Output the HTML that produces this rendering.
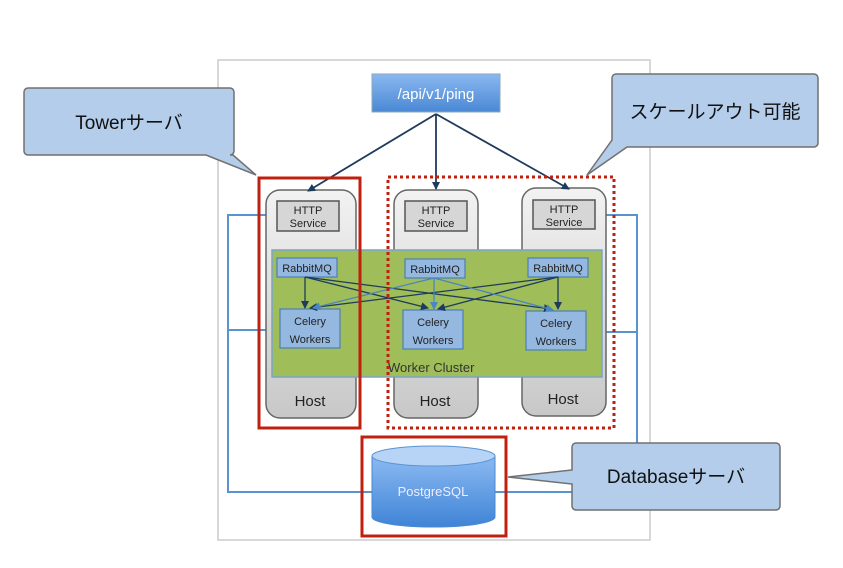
<!DOCTYPE html>
<html><head><meta charset="utf-8"><style>
body{margin:0;width:843px;height:563px;background:#fff;overflow:hidden;font-family:"Liberation Sans","Noto Sans CJK JP",sans-serif}
svg text{font-family:"Liberation Sans","Noto Sans CJK JP",sans-serif}
</style></head><body>
<svg width="843" height="563" viewBox="0 0 843 563">
<defs>
<linearGradient id="hg" x1="0" y1="0" x2="0" y2="1"><stop offset="0" stop-color="#f2f2f2"/><stop offset="1" stop-color="#c8c8c8"/></linearGradient>
<linearGradient id="pg" x1="0" y1="0" x2="0" y2="1"><stop offset="0" stop-color="#8ab8f0"/><stop offset="1" stop-color="#4a88d4"/></linearGradient>
<linearGradient id="cg" x1="0" y1="0" x2="0" y2="1"><stop offset="0" stop-color="#8cbaf2"/><stop offset="1" stop-color="#3f84d6"/></linearGradient>
<marker id="a" markerWidth="8" markerHeight="8" refX="7" refY="4" orient="auto" markerUnits="userSpaceOnUse"><path d="M0,0 L8,4 L0,8 z" fill="#1f3b5c"/></marker>
<marker id="b" markerWidth="8" markerHeight="8" refX="7" refY="4" orient="auto" markerUnits="userSpaceOnUse"><path d="M0,0 L8,4 L0,8 z" fill="#4a86c0"/></marker>
</defs>
<rect x="218" y="60" width="432" height="480" fill="#fff" stroke="#ccc" stroke-width="1.5"/>
<!-- blue lines -->
<g stroke="#5b93cf" stroke-width="2" fill="none">
<path d="M277,215 H228 V492 H372"/><path d="M280,330 H228"/>
<path d="M595,215 H637 V492 H495"/><path d="M586,332 H637"/>
</g>
<!-- hosts -->
<g stroke="#666" stroke-width="1.5" fill="url(#hg)">
<rect x="266" y="190" width="90" height="228" rx="14"/>
<rect x="394" y="190" width="84" height="228" rx="14"/>
<rect x="522" y="188" width="84" height="228" rx="14"/>
</g>
<g font-size="15" fill="#222" text-anchor="middle">
<text x="310" y="406">Host</text><text x="435" y="406">Host</text><text x="563" y="404">Host</text>
</g>
<g fill="#d6d6d6" stroke="#555" stroke-width="1.5">
<rect x="277" y="201" width="62" height="30"/><rect x="405" y="201" width="62" height="30"/><rect x="533" y="200" width="62" height="29"/>
</g>
<g font-size="11" fill="#222" text-anchor="middle">
<text x="308" y="214">HTTP</text><text x="308" y="227">Service</text>
<text x="436" y="214">HTTP</text><text x="436" y="227">Service</text>
<text x="564" y="213">HTTP</text><text x="564" y="226">Service</text>
</g>
<rect x="272" y="250" width="330" height="127" fill="#9fbd58" stroke="#7aa3c8" stroke-width="1.5"/>
<text x="388" y="372" font-size="13" fill="#333">Worker Cluster</text>
<g fill="#95b8e0" stroke="#4a7fb5" stroke-width="1.2">
<rect x="277" y="258" width="60" height="19"/><rect x="405" y="259" width="60" height="19"/><rect x="528" y="258" width="60" height="19"/>
<rect x="280" y="309" width="60" height="39"/><rect x="403" y="310" width="60" height="39"/><rect x="526" y="311" width="60" height="39"/>
</g>
<g font-size="11" fill="#222" text-anchor="middle">
<text x="307" y="272">RabbitMQ</text><text x="435" y="273">RabbitMQ</text><text x="558" y="272">RabbitMQ</text>
<text x="310" y="325">Celery</text><text x="310" y="343">Workers</text>
<text x="433" y="326">Celery</text><text x="433" y="344">Workers</text>
<text x="556" y="327">Celery</text><text x="556" y="345">Workers</text>
</g>
<g stroke="#1f3b5c" stroke-width="1.3" marker-end="url(#a)">
<line x1="305" y1="277" x2="305" y2="308"/><line x1="305" y1="277" x2="428" y2="308"/><line x1="305" y1="277" x2="551" y2="309"/>
<line x1="558" y1="277" x2="558" y2="309"/><line x1="558" y1="277" x2="310" y2="308"/><line x1="558" y1="277" x2="438" y2="309"/>
</g>
<g stroke="#4a86c0" stroke-width="1.3" marker-end="url(#b)">
<line x1="434" y1="278" x2="434" y2="309"/><line x1="434" y1="278" x2="313" y2="308"/><line x1="434" y1="278" x2="553" y2="310"/>
</g>
<!-- ping -->
<rect x="372" y="74" width="128" height="38" fill="url(#pg)" stroke="#8ab"/>
<text x="436" y="99" font-size="15" fill="#fff" text-anchor="middle">/api/v1/ping</text>
<g stroke="#1f3b5c" stroke-width="1.8" marker-end="url(#a)">
<line x1="436" y1="114" x2="308" y2="191"/><line x1="436" y1="114" x2="436" y2="189"/><line x1="436" y1="114" x2="569" y2="189"/>
</g>
<!-- red frames -->
<rect x="259" y="178" width="101" height="250" fill="none" stroke="#c0200f" stroke-width="3"/>
<rect x="388" y="177" width="226" height="251" fill="none" stroke="#c0200f" stroke-width="3" stroke-dasharray="3,3"/>
<!-- cylinder -->
<path d="M372,456 V517 A61.5,10 0 0 0 495,517 V456" fill="url(#cg)" stroke="#4a88d4"/>
<ellipse cx="433.5" cy="456" rx="61.5" ry="10" fill="#b7d3f5" stroke="#5a94d6"/>
<text x="433" y="496" font-size="13" fill="#eef" text-anchor="middle">PostgreSQL</text>
<rect x="362" y="437" width="144" height="99" fill="none" stroke="#c0200f" stroke-width="3"/>
<!-- callouts -->
<g fill="#b3cdea" stroke="#707070" stroke-width="1.5">
<path d="M28,88 H230 a4,4 0 0 1 4,4 V151 a4,4 0 0 1 -4,4 H233 L256,175 L206,155 H28 a4,4 0 0 1 -4,-4 V92 a4,4 0 0 1 4,-4 z"/>
<path d="M616,74 H814 a4,4 0 0 1 4,4 V143 a4,4 0 0 1 -4,4 H627 L587,175 L612,140 V78 a4,4 0 0 1 4,-4 z"/>
<path d="M576,443 H776 a4,4 0 0 1 4,4 V506 a4,4 0 0 1 -4,4 H576 a4,4 0 0 1 -4,-4 V484 L508,477 L572,470 V447 a4,4 0 0 1 4,-4 z"/>
</g>
<g font-size="19" fill="#111" text-anchor="middle">
<text x="129" y="129">Towerサーバ</text>
<text x="715" y="118">スケールアウト可能</text>
<text x="676" y="483">Databaseサーバ</text>
</g>
</svg>
</body></html>
